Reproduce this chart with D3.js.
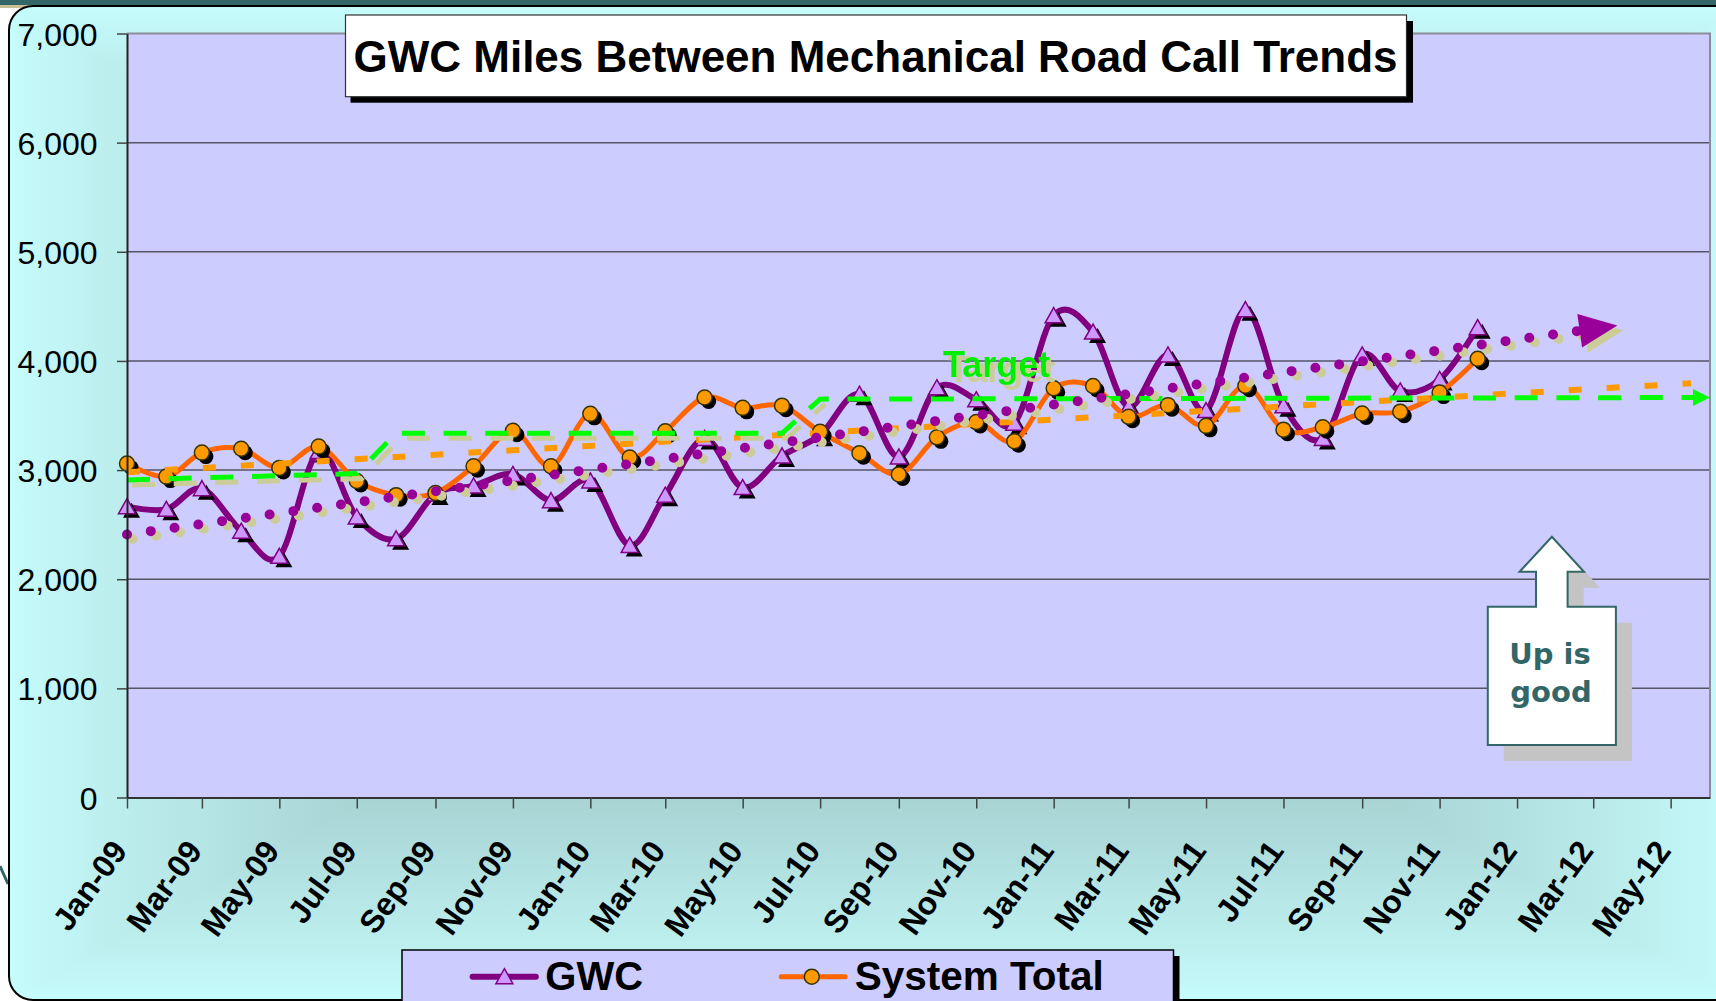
<!DOCTYPE html>
<html>
<head>
<meta charset="utf-8">
<script src="https://cdnjs.cloudflare.com/ajax/libs/d3/7.8.5/d3.min.js"></script>
<style>
  body { margin: 0; background: #fff; }
  svg { display: block; font-family: "Liberation Sans", Arial, sans-serif; }
</style>
</head>
<body>
<svg id="chart" width="1716" height="1001"></svg>
<script>
var months = ["Jan-09","Feb-09","Mar-09","Apr-09","May-09","Jun-09","Jul-09","Aug-09","Sep-09","Oct-09","Nov-09","Dec-09",
              "Jan-10","Feb-10","Mar-10","Apr-10","May-10","Jun-10","Jul-10","Aug-10","Sep-10","Oct-10","Nov-10","Dec-10",
              "Jan-11","Feb-11","Mar-11","Apr-11","May-11","Jun-11","Jul-11","Aug-11","Sep-11","Oct-11","Nov-11","Dec-11"];

var gwc = [2665, 2640, 2830, 2440, 2210, 3170, 2570, 2370, 2780, 2855, 2960, 2720,
           2900, 2310, 2770, 3290, 2840, 3130, 3320, 3695, 3120, 3755, 3645, 3430,
           4415, 4265, 3580, 4055, 3545, 4470, 3590, 3290, 4055, 3725, 3830, 4305];

var systemTotal = [3060, 2940, 3160, 3195, 3020, 3215, 2900, 2770, 2790, 3035, 3360, 3035,
                   3515, 3115, 3355, 3665, 3570, 3590, 3350, 3155, 2960, 3300, 3440, 3265,
                   3750, 3770, 3488, 3595, 3405, 3772, 3370, 3392, 3518, 3535, 3710, 4020];

// target line corners
var targetMonths = ["Jan-09", "Jul-09", "Aug-09", "Jun-10", "Jul-10", "Jun-12"];
var targetValues = [2910, 2968, 3337, 3337, 3650, 3665];

// trendline ends as drawn
var gwcTrendDates = ["2009-01-01", "2012-03-20"];
var gwcTrendValues = [2410, 4325];
var sysTrendDates = ["2009-01-01", "2012-05-17"];
var sysTrendValues = [2980, 3795];

var tickLabels = ["Jan-09","Mar-09","May-09","Jul-09","Sep-09","Nov-09","Jan-10","Mar-10","May-10","Jul-10","Sep-10",
                  "Nov-10","Jan-11","Mar-11","May-11","Jul-11","Sep-11","Nov-11","Jan-12","Mar-12","May-12"];
var yTicks = [0, 1000, 2000, 3000, 4000, 5000, 6000, 7000];

var parseMonth = d3.timeParse("%b-%y"),
    parseDay = d3.timeParse("%Y-%m-%d");

var svg = d3.select("#chart");
var defs = svg.append("defs");

var plot = {left: 127, right: 1710, top: 33.5, bottom: 797.5};
var frame = {x0: 9, y0: 6, x1: 1740, y1: 1000};
var fcx = (frame.x0 + frame.x1) / 2, fcy = (frame.y0 + frame.y1) / 2;

var x = d3.scaleTime()
          .domain([parseMonth("Jan-09"), parseMonth("Jun-12")])
          .range([plot.left, plot.right]);
var y = d3.scaleLinear()
          .domain([0, 7000])
          .range([plot.bottom, plot.top]);

// slide bits behind the chart
svg.append("rect").attr("x", 0).attr("y", 0).attr("width", 1716).attr("height", 5).attr("fill", "#336666");
svg.append("rect").attr("x", 0).attr("y", 5).attr("width", 40).attr("height", 3).attr("fill", "#c8c096");
svg.append("line").attr("x1", 0).attr("y1", 866).attr("x2", 8).attr("y2", 884)
   .attr("stroke", "#336666").attr("stroke-width", 3);

// "from center" gradient of the chart area, built from four trapezoids
defs.append("clipPath").attr("id", "frameclip")
    .append("rect")
    .attr("x", frame.x0).attr("y", frame.y0)
    .attr("width", frame.x1 - frame.x0).attr("height", frame.y1 - frame.y0)
    .attr("rx", 24);

function addGrad(id, x1, y1, x2, y2) {
  var g = defs.append("linearGradient").attr("id", id)
              .attr("gradientUnits", "userSpaceOnUse")
              .attr("x1", x1).attr("y1", y1).attr("x2", x2).attr("y2", y2);
  [[0, "#98c6c6"], [0.6, "#a8d4d4"], [0.9, "#bef0f0"], [1, "#c6fcfc"]].forEach(function(s) {
    g.append("stop").attr("offset", s[0]).attr("stop-color", s[1]);
  });
}
addGrad("gTop", 0, fcy, 0, frame.y0);
addGrad("gBottom", 0, fcy, 0, frame.y1);
addGrad("gLeft", fcx, 0, frame.x0, 0);
addGrad("gRight", fcx, 0, frame.x1, 0);

// khaki drop shadow for the Target label
var shadow = defs.append("filter").attr("id", "khakiShadow")
                 .attr("x", "-10%").attr("y", "-20%").attr("width", "130%").attr("height", "150%");
shadow.append("feFlood").attr("flood-color", "#cccc99").attr("result", "flood");
shadow.append("feComposite").attr("in", "flood").attr("in2", "SourceAlpha").attr("operator", "in").attr("result", "sh");
shadow.append("feOffset").attr("in", "sh").attr("dx", 5).attr("dy", 5).attr("result", "off");
var merge = shadow.append("feMerge");
merge.append("feMergeNode").attr("in", "off");
merge.append("feMergeNode").attr("in", "SourceGraphic");

var bg = svg.append("g").attr("clip-path", "url(#frameclip)");
var c = [fcx, fcy];
[
  ["gTop", [[frame.x0, frame.y0], [frame.x1, frame.y0], c]],
  ["gBottom", [[frame.x0, frame.y1], [frame.x1, frame.y1], c]],
  ["gLeft", [[frame.x0, frame.y0], [frame.x0, frame.y1], c]],
  ["gRight", [[frame.x1, frame.y0], [frame.x1, frame.y1], c]]
].forEach(function(t) {
  bg.append("polygon").attr("points", t[1].map(function(p) { return p.join(","); }).join(" "))
    .attr("fill", "url(#" + t[0] + ")").attr("stroke", "url(#" + t[0] + ")").attr("stroke-width", 1);
});
svg.append("rect")
   .attr("x", frame.x0).attr("y", frame.y0)
   .attr("width", frame.x1 - frame.x0).attr("height", frame.y1 - frame.y0)
   .attr("rx", 24).attr("fill", "none").attr("stroke", "#000").attr("stroke-width", 2);

// plot area
svg.append("rect")
   .attr("x", plot.left).attr("y", plot.top)
   .attr("width", plot.right - plot.left).attr("height", plot.bottom - plot.top)
   .attr("fill", "#ccccff");

svg.append("g").selectAll("line")
   .data(yTicks.filter(function(v) { return v > 0 && v < 7000; }))
   .enter().append("line")
   .attr("x1", plot.left).attr("x2", plot.right)
   .attr("y1", function(d) { return y(d); }).attr("y2", function(d) { return y(d); })
   .attr("stroke", "#555566").attr("stroke-width", 1.5);

svg.append("path")
   .attr("d", "M" + plot.left + "," + plot.top + "H" + plot.right + "V" + plot.bottom)
   .attr("fill", "none").attr("stroke", "#8c8c99").attr("stroke-width", 2);

// series
var gwcData = months.map(function(m, i) { return {date: parseMonth(m), value: gwc[i]}; });
var sysData = months.map(function(m, i) { return {date: parseMonth(m), value: systemTotal[i]}; });

var smooth = d3.line()
               .x(function(d) { return x(d.date); })
               .y(function(d) { return y(d.value); })
               .curve(d3.curveCatmullRom.alpha(0));
var straight = d3.line()
                 .x(function(d) { return x(d.date); })
                 .y(function(d) { return y(d.value); });

function tri(cx, cy) {
  return "M" + cx + "," + (cy - 8) + "L" + (cx + 8.5) + "," + (cy + 7) + "L" + (cx - 8.5) + "," + (cy + 7) + "Z";
}

svg.append("path").attr("d", smooth(gwcData))
   .attr("fill", "none").attr("stroke", "#800080").attr("stroke-width", 6).attr("stroke-linejoin", "round");

var gm = svg.append("g");
gm.selectAll("path.shadow").data(gwcData).enter().append("path")
  .attr("class", "shadow")
  .attr("d", function(d) { return tri(x(d.date) + 4.5, y(d.value) + 4); })
  .attr("fill", "#000");
gm.selectAll("path.mark").data(gwcData).enter().append("path")
  .attr("class", "mark")
  .attr("d", function(d) { return tri(x(d.date), y(d.value)); })
  .attr("fill", "#cc99ff").attr("stroke", "#800080").attr("stroke-width", 1.5);

svg.append("path").attr("d", smooth(sysData))
   .attr("fill", "none").attr("stroke", "#ff6600").attr("stroke-width", 5).attr("stroke-linejoin", "round");

var sm = svg.append("g");
sm.selectAll("circle.shadow").data(sysData).enter().append("circle")
  .attr("class", "shadow")
  .attr("cx", function(d) { return x(d.date) + 4; })
  .attr("cy", function(d) { return y(d.value) + 4; })
  .attr("r", 7.5).attr("fill", "#000");
sm.selectAll("circle.mark").data(sysData).enter().append("circle")
  .attr("class", "mark")
  .attr("cx", function(d) { return x(d.date); })
  .attr("cy", function(d) { return y(d.value); })
  .attr("r", 7.5).attr("fill", "#ff9900").attr("stroke", "#333300").attr("stroke-width", 1.5);

// trendlines and target
var sysTrend = sysTrendDates.map(function(d, i) { return {date: parseDay(d), value: sysTrendValues[i]}; });
var gwcTrend = gwcTrendDates.map(function(d, i) { return {date: parseDay(d), value: gwcTrendValues[i]}; });
var target = targetMonths.map(function(m, i) { return {date: parseMonth(m), value: targetValues[i]}; });

svg.append("path").attr("d", straight(sysTrend))
   .attr("fill", "none").attr("stroke", "#ff9900").attr("stroke-width", 6)
   .attr("stroke-dasharray", "13 25");

function arrowHead(pts, len, half) {
  var p0 = [x(pts[pts.length - 2].date), y(pts[pts.length - 2].value)],
      p1 = [x(pts[pts.length - 1].date), y(pts[pts.length - 1].value)];
  var dx = p1[0] - p0[0], dy = p1[1] - p0[1], l = Math.sqrt(dx * dx + dy * dy);
  var ux = dx / l, uy = dy / l;
  var bx = p1[0] - ux * len, by = p1[1] - uy * len;
  return [[p1[0], p1[1]], [bx - uy * half, by + ux * half], [bx + uy * half, by - ux * half]];
}

// target: shadowed part up to the Jul-10 step, then the rest with an arrow
var targetOld = target.slice(0, 5);
var tg = svg.append("g");
tg.append("path").attr("d", straight(targetOld))
  .attr("transform", "translate(5,5)")
  .attr("fill", "none").attr("stroke", "#cccc99").attr("stroke-width", 5)
  .attr("stroke-dasharray", "23 18.7");
tg.append("path").attr("d", straight(target))
  .attr("fill", "none").attr("stroke", "#00ff00").attr("stroke-width", 5)
  .attr("stroke-dasharray", "23 18.7");
tg.append("polygon")
  .attr("points", arrowHead(target, 17, 8.5).map(function(p) { return p.join(","); }).join(" "))
  .attr("fill", "#00ff00");

var gt = svg.append("g");
var head = arrowHead(gwcTrend, 38, 17).map(function(p) { return p.join(","); }).join(" ");
gt.append("path").attr("d", straight(gwcTrend))
  .attr("transform", "translate(5.5,4.5)")
  .attr("fill", "none").attr("stroke", "#cccc99").attr("stroke-width", 10)
  .attr("stroke-linecap", "round").attr("stroke-dasharray", "0 24");
gt.append("polygon").attr("points", head).attr("transform", "translate(6,5)").attr("fill", "#cccc99");
gt.append("path").attr("d", straight(gwcTrend))
  .attr("fill", "none").attr("stroke", "#990099").attr("stroke-width", 10)
  .attr("stroke-linecap", "round").attr("stroke-dasharray", "0 24");
gt.append("polygon").attr("points", head).attr("fill", "#990099");

// Target label
svg.append("text").attr("x", 943).attr("y", 376.7).text("Target")
   .attr("font-size", 36).attr("font-weight", "bold").attr("fill", "#00ee00")
   .attr("filter", "url(#khakiShadow)");

// axes
var xAxis = svg.append("g")
   .attr("transform", "translate(0," + plot.bottom + ")")
   .call(d3.axisBottom(x)
           .tickValues(tickLabels.map(parseMonth))
           .tickSize(11).tickSizeOuter(0)
           .tickFormat(d3.timeFormat("%b-%y")));
xAxis.select(".domain").attr("stroke", "#333").attr("stroke-width", 2);
xAxis.selectAll(".tick line").attr("stroke", "#444").attr("stroke-width", 1.5);
xAxis.selectAll(".tick text")
     .attr("y", null).attr("dy", null)
     .attr("transform", "translate(1,53.5) rotate(-54)")
     .attr("text-anchor", "end")
     .attr("font-family", "Liberation Sans, Arial, sans-serif")
     .attr("font-size", 32).attr("font-weight", "bold").attr("fill", "#000");

var yAxis = svg.append("g")
   .attr("transform", "translate(" + plot.left + ",0)")
   .call(d3.axisLeft(y).tickValues(yTicks).tickSize(10).tickSizeOuter(0).tickFormat(d3.format(",")));
yAxis.select(".domain").attr("stroke", "#222").attr("stroke-width", 2);
yAxis.selectAll(".tick line").attr("stroke", "#444").attr("stroke-width", 1.5);
yAxis.selectAll(".tick text")
     .attr("x", -29.4).attr("dy", "0.36em")
     .attr("font-family", "Liberation Sans, Arial, sans-serif")
     .attr("font-size", 32).attr("fill", "#000");

// title box
var tb = {x: 345.5, y: 15, w: 1061, h: 81.7};
svg.append("rect").attr("x", tb.x + 5).attr("y", tb.y + 6).attr("width", tb.w + 1.5).attr("height", tb.h)
   .attr("fill", "#000");
svg.append("rect").attr("x", tb.x).attr("y", tb.y).attr("width", tb.w).attr("height", tb.h)
   .attr("fill", "#fff").attr("stroke", "#333").attr("stroke-width", 1.2);
svg.append("text").attr("x", 353.5).attr("y", 71.7)
   .attr("font-size", 44).attr("font-weight", "bold").attr("fill", "#000")
   .text("GWC Miles Between Mechanical Road Call Trends");

// legend
var lg = svg.append("g");
lg.append("rect").attr("x", 408).attr("y", 956).attr("width", 771.5).attr("height", 80).attr("fill", "#000");
lg.append("rect").attr("x", 402).attr("y", 950).attr("width", 771.5).attr("height", 80)
  .attr("fill", "#ccccff").attr("stroke", "#000").attr("stroke-width", 1.5);
lg.append("line").attr("x1", 472.6).attr("x2", 535.8).attr("y1", 976.7).attr("y2", 976.7)
  .attr("stroke", "#800080").attr("stroke-width", 6).attr("stroke-linecap", "round");
lg.append("path").attr("d", tri(504.4, 976.7)).attr("fill", "#cc99ff").attr("stroke", "#800080").attr("stroke-width", 1.5);
lg.append("text").attr("x", 545.3).attr("y", 990).text("GWC")
  .attr("font-size", 40).attr("font-weight", "bold").attr("fill", "#000");
lg.append("line").attr("x1", 781.2).attr("x2", 845.1).attr("y1", 976.7).attr("y2", 976.7)
  .attr("stroke", "#ff6600").attr("stroke-width", 5).attr("stroke-linecap", "round");
lg.append("circle").attr("cx", 811.8).attr("cy", 976.7).attr("r", 7.5)
  .attr("fill", "#ff9900").attr("stroke", "#333300").attr("stroke-width", 1.5);
lg.append("text").attr("x", 854.7).attr("y", 990).text("System Total")
  .attr("font-size", 40.5).attr("font-weight", "bold").attr("fill", "#000");

// "Up is good" callout
var callout = [[1487.8, 606.7], [1536, 606.7], [1536, 571.7], [1519.6, 571.7], [1551.9, 536.7],
               [1584, 571.7], [1567.6, 571.7], [1567.6, 606.7], [1615.9, 606.7], [1615.9, 745], [1487.8, 745]];
var cpts = callout.map(function(p) { return p.join(","); }).join(" ");
svg.append("polygon").attr("points", cpts).attr("transform", "translate(16,16)").attr("fill", "#c4c4c4");
svg.append("polygon").attr("points", cpts).attr("fill", "#fff").attr("stroke", "#336666").attr("stroke-width", 2);
svg.append("text").attr("x", 1550).attr("y", 664).attr("text-anchor", "middle").text("Up is")
   .attr("font-family", "DejaVu Sans, sans-serif").attr("font-size", 29).attr("font-weight", "bold").attr("fill", "#336666");
svg.append("text").attr("x", 1551).attr("y", 701.7).attr("text-anchor", "middle").text("good")
   .attr("font-family", "DejaVu Sans, sans-serif").attr("font-size", 29).attr("font-weight", "bold").attr("fill", "#336666");
</script>
</body>
</html>
